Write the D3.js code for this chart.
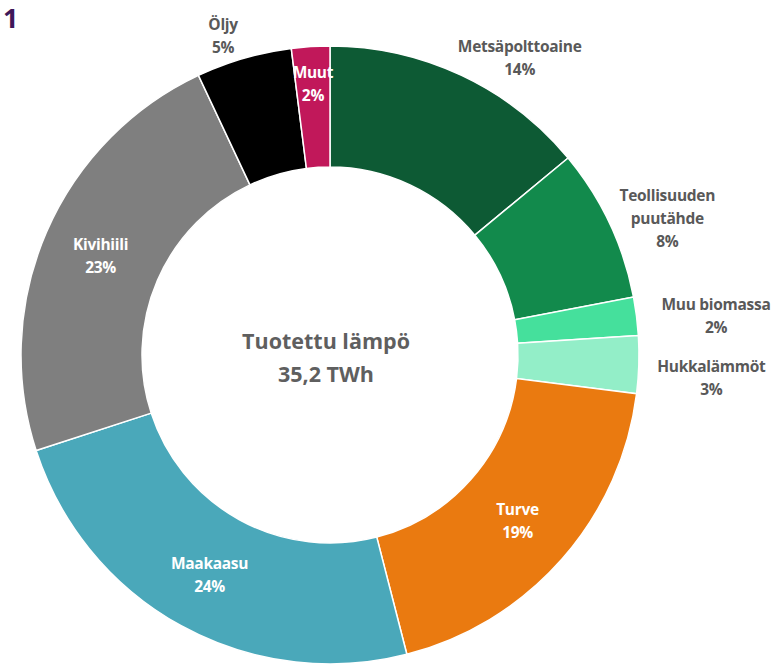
<!DOCTYPE html>
<html>
<head>
<meta charset="utf-8">
<script src="https://cdn.jsdelivr.net/npm/d3@7"></script>
<style>
  body { margin: 0; background: #fff; }
  text { font-family: "Open Sans", sans-serif; }
</style>
</head>
<body>
<svg id="chart" width="775" height="665"></svg>
<script>
// share of heat production by fuel, %
var fuels = ["Metsäpolttoaine", "Teollisuuden puutähde", "Muu biomassa", "Hukkalämmöt",
             "Turve", "Maakaasu", "Kivihiili", "Öljy", "Muut"];
var shares = [14, 8, 2, 3, 19, 24, 23, 5, 2];
var centerLines = ["Tuotettu lämpö", "35,2 TWh"];

var colors = ["#0d5a34", "#128a4c", "#45e09c", "#93eec8", "#ea7a10",
              "#4aa8ba", "#7f7f7f", "#000000", "#c1185a"];

var data = fuels.map(function (f, i) { return { name: f, value: shares[i] }; });

var cx = 330, cy = 355, rOuter = 309, rInner = 188;

// labels drawn inside the ring, the rest sit outside
var inside = ["Turve", "Maakaasu", "Kivihiili", "Muut"];
// outside label anchors: [angle in degrees from top, radius]
var outsidePlace = {
    "Metsäpolttoaine": [32.5, 353],
    "Teollisuuden puutähde": [67.9, 364],
    "Muu biomassa": [84.2, 388],
    "Hukkalämmöt": [93.4, 382],
    "Öljy": [341.5, 337]
};
var labelLines = {
    "Teollisuuden puutähde": ["Teollisuuden", "puutähde"]
};

const svg = d3.select('#chart');
const g = svg.append('g').attr('transform', 'translate(' + cx + ', ' + cy + ')');

var color = d3.scaleOrdinal().domain(fuels).range(colors);
var pie = d3.pie().value(d => d.value).sort(null);
var arc = d3.arc().innerRadius(rInner).outerRadius(rOuter);
var arcs = pie(data);

g.selectAll('.slice')
    .data(arcs)
    .enter()
    .append('path')
    .attr('class', 'slice')
    .attr('d', arc)
    .attr('fill', d => color(d.data.name))
    .attr('stroke', '#fff')
    .attr('stroke-width', 1.5);

// label positions
arcs.forEach(function (d) {
    var name = d.data.name;
    var ang, r;
    var isIn = inside.indexOf(name) >= 0;
    if (isIn) {
        ang = (d.startAngle + d.endAngle) / 2;
        r = name === "Muut" ? 272 : 250;
    } else {
        ang = outsidePlace[name][0] * Math.PI / 180;
        r = outsidePlace[name][1];
    }
    var x = r * Math.sin(ang);
    var y = -r * Math.cos(ang);
    var lines = (labelLines[name] || [name]).concat([d.data.value + "%"]);
    var lh = 23;
    var t = g.append('text')
        .attr('text-anchor', 'middle')
        .attr('font-size', 15.5)
        .attr('font-weight', 700)
        .attr('letter-spacing', -0.3)
        .attr('fill', isIn ? '#ffffff' : '#595959');
    lines.forEach(function (l, i) {
        t.append('tspan')
            .attr('x', x)
            .attr('y', y + (i - (lines.length - 1) / 2) * lh)
            .attr('dominant-baseline', 'central')
            .text(l);
    });
});

// centre caption
centerLines.forEach(function (l, i) {
    g.append('text')
        .attr('x', -4)
        .attr('y', -15 + i * 33)
        .attr('text-anchor', 'middle')
        .attr('dominant-baseline', 'central')
        .attr('font-size', 21.5)
        .attr('font-weight', 700)
        .attr('fill', '#5f5f5f')
        .text(l);
});

// figure number at top left
svg.append('text')
    .attr('x', 3)
    .attr('y', 28)
    .attr('font-size', 27)
    .attr('font-weight', 700)
    .attr('fill', '#3f1758')
    .text('1');
</script>
</body>
</html>
